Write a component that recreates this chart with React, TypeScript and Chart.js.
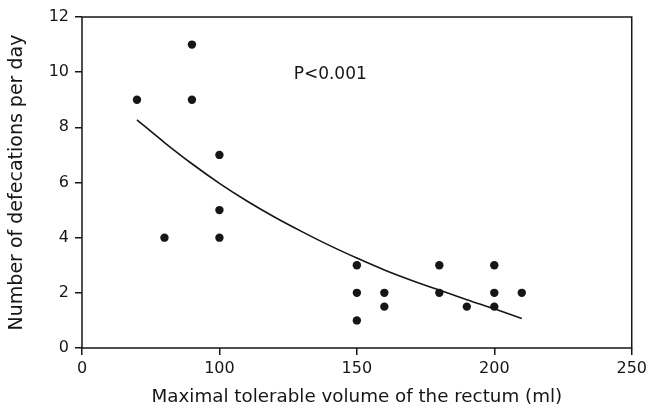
import React, { useEffect, useRef } from "react";
import { Chart, registerables } from "chart.js";

Chart.register(...registerables);

const volumes = [70, 80, 90, 90, 100, 100, 100, 150, 150, 150, 160, 160, 180, 180, 190, 200, 200, 200, 210];
const defecations = [9, 4, 11, 9, 7, 5, 4, 3, 2, 1, 2, 1.5, 3, 2, 1.5, 3, 2, 1.5, 2];

const fitX = [70, 80, 90, 100, 110, 120, 130, 140, 150, 160, 170, 180, 190, 200, 210];
const fitY = [8.27, 7.45, 6.68, 5.97, 5.33, 4.75, 4.22, 3.72, 3.26, 2.83, 2.45, 2.1, 1.75, 1.42, 1.07];

const xTickValues = [50, 100, 150, 200, 250];
const xTickLabels = ["0", "100", "150", "200", "250"];
const yTickValues = [0, 2, 4, 6, 8, 10, 12];

const annotationText = "P<0.001";
const annotationPos = { x: 127, y: 9.9 };

const INK = "#161616";
const FONT = "'DejaVu Sans', sans-serif";

export default function App() {
  const ref = useRef<HTMLCanvasElement | null>(null);

  useEffect(() => {
    if (!ref.current) return;
    const framePlugin = {
      id: "frame",
      afterDraw(chart: any) {
        const { ctx, chartArea } = chart;
        ctx.save();
        ctx.strokeStyle = INK;
        ctx.lineWidth = 1.5;
        ctx.strokeRect(chartArea.left, chartArea.top, chartArea.right - chartArea.left, chartArea.bottom - chartArea.top);
        const xs = chart.scales.x;
        const ys = chart.scales.y;
        ctx.fillStyle = INK;
        ctx.font = `17px ${FONT}`;
        ctx.textAlign = "left";
        ctx.textBaseline = "middle";
        ctx.fillText(annotationText, xs.getPixelForValue(annotationPos.x), ys.getPixelForValue(annotationPos.y));
        ctx.restore();
      },
    };

    const chart = new Chart(ref.current, {
      type: "scatter",
      data: {
        datasets: [
          {
            label: "fit",
            data: fitX.map((x, i) => ({ x, y: fitY[i] })),
            showLine: true,
            borderColor: INK,
            borderWidth: 1.6,
            pointRadius: 0,
            cubicInterpolationMode: "monotone",
            fill: false,
          } as any,
          {
            label: "patients",
            data: volumes.map((x, i) => ({ x, y: defecations[i] })),
            backgroundColor: INK,
            borderWidth: 0,
            pointRadius: 4.2,
            showLine: false,
          },
        ],
      },
      options: {
        animation: false,
        responsive: false,
        devicePixelRatio: 1,
        layout: { padding: { left: 0, top: 17, right: 18, bottom: 0 } },
        plugins: { legend: { display: false }, tooltip: { enabled: false } },
        scales: {
          x: {
            type: "linear",
            min: 50,
            max: 250,
            afterBuildTicks: (s: any) => {
              s.ticks = xTickValues.map((v) => ({ value: v }));
            },
            afterFit: (s: any) => {
              s.height = 61;
            },
            ticks: {
              color: INK,
              font: { family: FONT, size: 16 },
              padding: 4,
              maxRotation: 0,
              callback: (v: any) => {
                const i = xTickValues.indexOf(Number(v));
                return i >= 0 ? xTickLabels[i] : "";
              },
            },
            grid: { display: true, drawOnChartArea: false, drawTicks: true, tickLength: 7, color: INK, lineWidth: 1.5 },
            border: { display: false },
            title: {
              display: true,
              text: "Maximal tolerable volume of the rectum (ml)",
              color: INK,
              font: { family: FONT, size: 18.3 },
              padding: { top: 0, bottom: 1 },
            },
          },
          y: {
            type: "linear",
            min: 0,
            max: 12,
            afterBuildTicks: (s: any) => {
              s.ticks = yTickValues.map((v) => ({ value: v }));
            },
            afterFit: (s: any) => {
              s.width = 82;
            },
            ticks: {
              color: INK,
              font: { family: FONT, size: 16 },
              padding: 6,
            },
            grid: { display: true, drawOnChartArea: false, drawTicks: true, tickLength: 7, color: INK, lineWidth: 1.5 },
            border: { display: false },
            title: {
              display: true,
              text: "Number of defecations per day",
              color: INK,
              font: { family: FONT, size: 19 },
              padding: { top: 6, bottom: 0 },
            },
          },
        },
      },
      plugins: [framePlugin],
    });
    return () => chart.destroy();
  }, []);

  return (
    <div style={{ position: "fixed", left: 0, top: 0, width: 651, height: 409, background: "#fff" }}>
      <canvas ref={ref} width={651} height={409} />
    </div>
  );
}
